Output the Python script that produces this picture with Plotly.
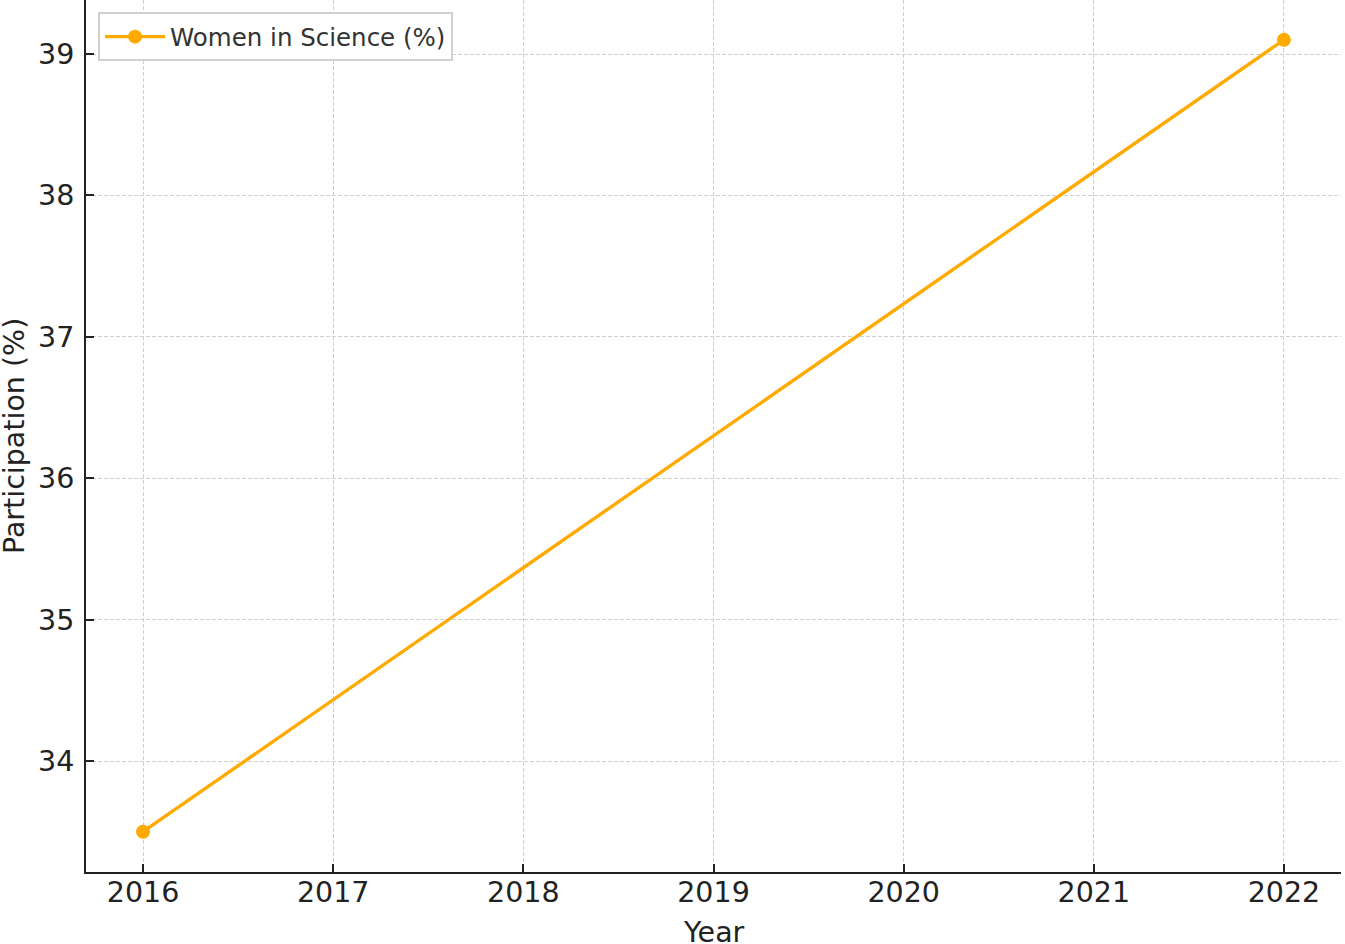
import plotly.graph_objects as go

years = [2016, 2022]
women_in_science = [33.5, 39.1]
series_name = "Women in Science (%)"
x_ticks = [2016, 2017, 2018, 2019, 2020, 2021, 2022]
y_ticks = [34, 35, 36, 37, 38, 39]

FONT = "DejaVu Sans"
ORANGE = "#FFAA00"
DARK = "#222222"

fig = go.Figure()
fig.add_trace(go.Scatter(
    x=years, y=women_in_science, mode="lines+markers", name=series_name,
    line=dict(color=ORANGE, width=3.4), marker=dict(color=ORANGE, size=14),
))

axis_common = dict(
    showline=True, linecolor=DARK, linewidth=2,
    ticks="inside", ticklen=8, tickwidth=2, tickcolor=DARK,
    showgrid=True, gridcolor="#d0d0d0", gridwidth=1, griddash="4px,2px",
    zeroline=False, mirror=False, automargin=False,
    tickfont=dict(family=FONT, size=28.5, color=DARK),
)

fig.update_layout(
    width=1345, height=944,
    margin=dict(l=86, r=4, t=0, b=72),
    plot_bgcolor="white", paper_bgcolor="white",
    font=dict(family=FONT, color=DARK),
    showlegend=True,
    legend=dict(
        x=0.0096, y=0.986, xanchor="left", yanchor="top",
        bgcolor="white", bordercolor="#d0d0d0", borderwidth=2,
        itemwidth=60, tracegroupgap=0,
        font=dict(family=FONT, size=24.5, color="#333333"),
    ),
    xaxis=dict(
        range=[2015.70, 2022.30], tickvals=x_ticks, ticktext=[str(v) for v in x_ticks],
        ticklabelstandoff=-6,
        **axis_common,
    ),
    yaxis=dict(
        range=[33.215, 39.382], tickvals=y_ticks, ticktext=[str(v) for v in y_ticks],
        ticklabelstandoff=4,
        **axis_common,
    ),
    annotations=[
        dict(text="Year", xref="paper", yref="paper", x=0.5, y=0, yshift=-60,
             xanchor="center", yanchor="middle", showarrow=False,
             font=dict(family=FONT, size=28.5, color=DARK)),
        dict(text="Participation (%)", xref="paper", yref="paper", x=0, xshift=-72,
             y=0.5, xanchor="center", yanchor="middle", textangle=-90, showarrow=False,
             font=dict(family=FONT, size=28.5, color=DARK)),
    ],
)

fig.write_html(
    "out.html",
    config={"displayModeBar": False},
    post_script="document.body.style.margin='0';document.body.style.overflow='hidden';",
)
